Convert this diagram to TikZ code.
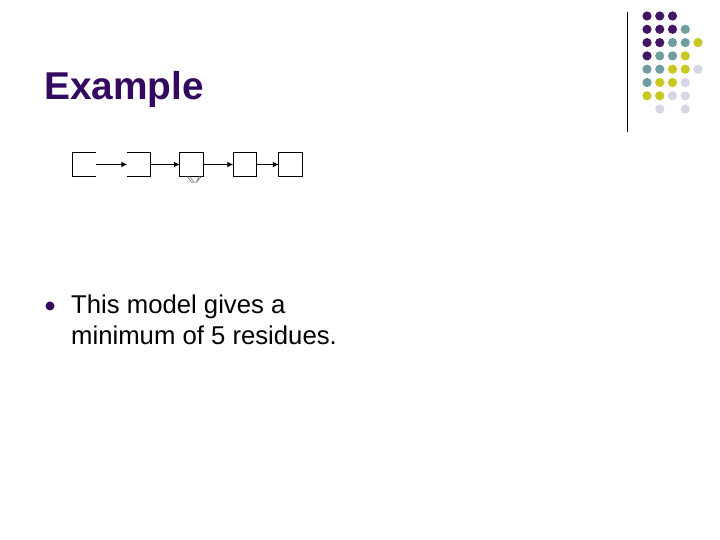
\documentclass[tikz,border=0pt]{standalone}
\usepackage{fontspec}
\setmainfont{Liberation Sans}
\usetikzlibrary{arrows.meta}
\definecolor{titleColor}{RGB}{52,10,96}
\definecolor{dotP}{RGB}{66,22,98}
\definecolor{dotT}{RGB}{112,158,160}
\definecolor{dotY}{RGB}{200,200,32}
\definecolor{dotL}{RGB}{214,214,232}
\tikzset{
  statebox/.style={minimum width=23.5pt,minimum height=23.5pt,inner sep=0pt,outer sep=0pt},
  link/.style={line width=1.7pt,-{Latex[length=6pt,width=6pt]}},
  themedot/.style={fill=#1,draw=none}
}
\begin{document}
\begin{tikzpicture}[x=1pt,y=1pt]
\definecolor{fillColor}{RGB}{255,255,255}
\path[use as bounding box,fill=fillColor] (0,0) rectangle (720,540);

% title
\node[text=titleColor,anchor=base west,inner sep=0pt,font=\bfseries\fontsize{38.8}{44}\selectfont] (title) at ( 44.00,440.00) {Example};

% decoration in the corner
\path[draw=black,line width= 1.0pt] (627.00,528.00) -- (627.00,408.00);
\foreach \c/\r/\col in {0/0/dotP,1/0/dotP,2/0/dotP,
    0/1/dotP,1/1/dotP,2/1/dotP,3/1/dotT,
    0/2/dotP,1/2/dotP,2/2/dotT,3/2/dotT,4/2/dotY,
    0/3/dotP,1/3/dotT,2/3/dotT,3/3/dotY,
    0/4/dotT,1/4/dotT,2/4/dotY,3/4/dotY,4/4/dotL,
    0/5/dotT,1/5/dotY,2/5/dotY,3/5/dotL,
    0/6/dotY,1/6/dotY,2/6/dotL,3/6/dotL,
    1/7/dotL,3/7/dotL}
  \path[themedot=\col] (647.00+12.75*\c,524.00-13.3*\r) circle (4.6);

% chain of states
\node[statebox] (s1) at ( 84.50,375.50) {};
\node[statebox] (s2) at (139.00,375.50) {};
\node[statebox,draw,line width=0.8pt] (s3) at (191.50,375.50) {};
\node[statebox,draw,line width=0.8pt] (s4) at (245.00,375.50) {};
\node[statebox,draw,line width=0.8pt] (s5) at (290.50,375.50) {};
\draw[line width=0.8pt] (s1.north east) -- (s1.north west) -- (s1.south west) -- (s1.south east);
\draw[line width=0.8pt] (s2.north west) -- (s2.north east) -- (s2.south east) -- (s2.south west);

\draw[link] (s1.east) -- (s2.west);
\draw[link] (s2.east) -- (s3.west);
\draw[link] (s3.east) -- (s4.west);
\draw[link] (s4.east) -- (s5.west);

% small loop under the middle state
\draw[gray!70!black,line width=0.5pt] ([xshift=-4.5pt]s3.south) -- ++(4.5,-6) -- ++(5,0) -- ++(5,6);
\draw[gray!70!black,line width=0.5pt] ([xshift=-2pt]s3.south) -- ++(4,-5.5)
  ([xshift=8pt]s3.south) -- ++(-3,-5.5);

% bullet text
\path[fill=titleColor] ( 50.00,234.00) circle (  4.5);
\node[anchor=base west,inner sep=0pt,font=\fontsize{25.7}{31}\selectfont] (line1) at ( 71.00,226.00) {This model gives a};
\node[anchor=base west,inner sep=0pt,font=\fontsize{25.7}{31}\selectfont] (line2) at ( 71.00,195.00) {minimum of 5 residues.};
\end{tikzpicture}
\end{document}
